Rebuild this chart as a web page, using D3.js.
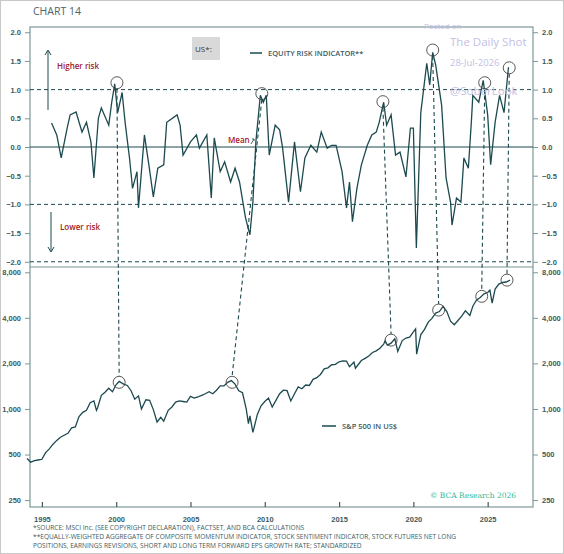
<!DOCTYPE html>
<html><head><meta charset="utf-8">
<script src="https://cdn.jsdelivr.net/npm/d3@7"></script>
<style>body{margin:0;background:#fff}svg{font-family:"Open Sans",sans-serif}</style>
</head><body><svg id="c" width="564" height="554"></svg>
<script>
const riskDates=[1995.65,1996.0,1996.3,1996.7,1996.9,1997.3,1997.7,1998.0,1998.3,1998.5,1998.8,1999.0,1999.5,1999.7,1999.9,2000.1,2000.4,2000.6,2000.9,2001.1,2001.4,2001.5,2001.9,2002.2,2002.5,2002.8,2003.2,2003.4,2004.1,2004.3,2004.5,2005.0,2005.4,2005.6,2006.1,2006.4,2006.6,2007.0,2007.3,2007.7,2008.0,2008.3,2008.7,2009.0,2009.2,2009.4,2009.7,2009.9,2010.1,2010.3,2010.7,2011.0,2011.2,2011.6,2012.0,2012.4,2012.7,2013.1,2013.5,2013.8,2014.2,2014.5,2014.8,2015.2,2015.5,2015.7,2015.9,2016.2,2016.5,2016.9,2017.2,2017.5,2017.7,2018.0,2018.2,2018.5,2018.8,2019.1,2019.5,2019.8,2020.0,2020.2,2020.5,2020.9,2021.1,2021.3,2021.5,2021.9,2022.2,2022.5,2022.6,2022.9,2023.2,2023.4,2023.7,2023.9,2024.0,2024.4,2024.7,2025.0,2025.2,2025.5,2025.8,2026.1,2026.4];
const riskValues=[0.42,0.21,-0.19,0.33,0.56,0.61,0.26,0.43,0.09,-0.54,0.5,0.68,0.38,0.78,1.1,0.6,0.95,0.43,-0.2,-0.72,-0.43,-1.06,0.21,-0.31,-0.87,-0.37,-0.31,0.43,0.56,0.38,-0.14,0.09,0.21,-0.02,0.21,-0.89,0.16,-0.43,-0.26,-0.61,-0.37,-0.61,-1.23,-1.53,-0.96,0.09,0.9,0.78,0.9,-0.14,0.38,0.3,-0.02,-0.96,0.09,-0.78,-0.19,0.03,-0.09,0.26,-0.02,0.03,0.03,-0.43,-1.06,-0.61,-1.3,-0.72,-0.31,0.03,0.21,0.26,0.43,0.78,0.38,0.56,-0.14,-0.09,-0.52,0.33,0.33,-1.76,0.6,1.46,1.08,1.65,1.43,0.73,-0.54,-0.96,-1.36,-0.89,-0.96,-0.19,-0.37,0.43,0.9,0.78,1.16,0.56,-0.31,0.43,0.9,0.6,1.39];
const spxDates=[1994.0,1994.25,1994.5,1994.75,1995.0,1995.25,1995.5,1995.75,1996.0,1996.25,1996.5,1996.75,1997.0,1997.25,1997.5,1997.75,1998.0,1998.25,1998.5,1998.67,1998.75,1999.0,1999.25,1999.5,1999.75,2000.0,2000.2,2000.5,2000.75,2001.0,2001.25,2001.5,2001.7,2002.0,2002.25,2002.5,2002.75,2003.0,2003.2,2003.5,2003.75,2004.0,2004.25,2004.5,2004.75,2005.0,2005.25,2005.5,2005.75,2006.0,2006.25,2006.5,2006.75,2007.0,2007.25,2007.5,2007.75,2008.0,2008.25,2008.5,2008.75,2008.9,2009.0,2009.2,2009.5,2009.75,2010.0,2010.25,2010.5,2010.75,2011.0,2011.25,2011.5,2011.75,2012.0,2012.25,2012.5,2012.75,2013.0,2013.25,2013.5,2013.75,2014.0,2014.25,2014.5,2014.75,2015.0,2015.25,2015.5,2015.7,2016.0,2016.1,2016.5,2016.75,2017.0,2017.25,2017.5,2017.75,2018.0,2018.1,2018.25,2018.5,2018.75,2018.95,2019.25,2019.5,2019.75,2020.0,2020.15,2020.22,2020.5,2020.75,2021.0,2021.25,2021.5,2021.75,2022.0,2022.25,2022.5,2022.75,2023.0,2023.25,2023.5,2023.8,2024.0,2024.25,2024.5,2024.75,2025.0,2025.15,2025.3,2025.5,2025.75,2026.0,2026.25,2026.5];
const spxValues=[470,445,455,460,465,515,545,585,620,650,670,690,750,760,890,950,980,1100,1130,980,1020,1230,1290,1370,1300,1450,1520,1460,1430,1320,1160,1220,1000,1150,1140,990,820,880,830,980,1030,1110,1130,1120,1110,1210,1180,1200,1230,1260,1300,1260,1330,1420,1420,1500,1540,1460,1320,1280,1000,800,900,700,920,1050,1120,1180,1030,1140,1260,1330,1320,1130,1260,1400,1360,1440,1430,1570,1610,1690,1840,1870,1960,1970,2050,2080,2070,1900,2040,1860,2090,2160,2240,2360,2420,2520,2680,2820,2640,2720,2910,2400,2830,2940,2980,3230,3380,2300,3100,3360,3750,3970,4300,4400,4770,4400,3800,3600,3840,4100,4450,4150,4770,5250,5450,5760,5880,6100,5000,6200,6690,6850,6900,7100];
const peakTop=[[2000.05,1.12],[2009.8,0.93],[2017.95,0.79],[2021.3,1.69],[2024.8,1.12],[2026.45,1.38]];
const peakBottom=[[2000.2,1500],[2007.8,1500],[2018.5,2850],[2021.7,4500],[2024.6,5550],[2026.3,7100]];
const riskTicks=[-2,-1.5,-1,-0.5,0,0.5,1,1.5,2];
const spxTicks=[250,500,1000,2000,4000,8000];
const yearTicks=[1995,2000,2005,2010,2015,2020,2025];
const footnotes=["*SOURCE: MSCI Inc. (SEE COPYRIGHT DECLARATION), FACTSET, AND BCA CALCULATIONS","**EQUALLY-WEIGHTED AGGREGATE OF COMPOSITE MOMENTUM INDICATOR, STOCK SENTIMENT INDICATOR, STOCK FUTURES NET LONG","POSITIONS, EARNINGS REVISIONS, SHORT AND LONG TERM FORWARD EPS GROWTH RATE; STANDARDIZED"];
const watermark=["Posted on","The Daily Shot","28-Jul-2026","@SoberLook"];

const svg=d3.select("#c");
const L=30,R=533,T1=27,B1=267,B2=507;
const dark="#1c4a4f",red="#a3201f",frame="#7d9696",txt="#3d5a5e";
svg.append("rect").attr("x",0.5).attr("y",0.5).attr("width",563).attr("height",553).attr("fill","none").attr("stroke","#c8c8c8");
const x=d3.scaleLinear().domain([1994.2,2028.05]).range([L,R]);
const y1=d3.scaleLinear().domain([-2.1,2.1]).range([267.5,26.5]);
const y2=d3.scaleLog().domain([225,8500]).range([B2,268.3]);

svg.append("text").attr("x",33).attr("y",15).attr("fill","#4d6468").attr("font-size",10.5).text("CHART 14");
svg.append("rect").attr("x",L).attr("y",T1).attr("width",R-L).attr("height",B2-T1).attr("fill","none").attr("stroke",frame).attr("stroke-width",1.2);
svg.append("line").attr("x1",L).attr("x2",R).attr("y1",B1).attr("y2",B1).attr("stroke",frame).attr("stroke-width",1.2);

function yAx(scale,fmt,vals){
  const la=svg.append("g").attr("transform",`translate(${L},0)`).call(d3.axisLeft(scale).tickValues(vals).tickFormat(fmt).tickSize(5).tickPadding(4));
  const ra=svg.append("g").attr("transform",`translate(${R},0)`).call(d3.axisRight(scale).tickValues(vals).tickFormat(fmt).tickSize(5).tickPadding(4));
  [la,ra].forEach(a=>{a.select(".domain").remove();a.selectAll("line").attr("stroke",frame);a.selectAll("text").attr("fill",txt).attr("font-size",7.5).attr("font-weight",600);});
}
yAx(y1,d3.format(".1f"),riskTicks);
yAx(y2,d3.format(",d"),spxTicks);
const xa=svg.append("g").attr("transform",`translate(0,${B2})`).call(d3.axisTop(x).tickValues(yearTicks).tickFormat(d3.format("d")).tickSize(5));
xa.select(".domain").remove();xa.selectAll("line").attr("stroke",txt).attr("stroke-width",1.2);
xa.selectAll("text").attr("fill",txt).attr("font-size",7.5).attr("font-weight",600).attr("y",15).attr("dy",0);

[1,-1,-2].forEach(v=>svg.append("line").attr("x1",L).attr("x2",R).attr("y1",y1(v)).attr("y2",y1(v)).attr("stroke",dark).attr("stroke-dasharray","4,3").attr("stroke-width",1));
svg.append("line").attr("x1",L).attr("x2",R).attr("y1",y1(0)).attr("y2",y1(0)).attr("stroke",dark).attr("stroke-width",1.2);

peakTop.forEach((p,i)=>{
  const b=peakBottom[i];
  svg.append("line").attr("x1",x(p[0])).attr("y1",y1(p[1])+6).attr("x2",x(b[0])).attr("y2",y2(b[1])-6).attr("stroke",dark).attr("stroke-dasharray","4,3").attr("stroke-width",1.1);
});

const line1=d3.line().x((d,i)=>x(riskDates[i])).y(d=>y1(d));
svg.append("path").attr("d",line1(riskValues)).attr("fill","none").attr("stroke",dark).attr("stroke-width",1.3);
const line2=d3.line().x((d,i)=>x(spxDates[i])).y(d=>y2(d));
svg.append("path").attr("d",line2(spxValues)).attr("fill","none").attr("stroke",dark).attr("stroke-width",1.3);

peakTop.forEach(p=>svg.append("circle").attr("cx",x(p[0])).attr("cy",y1(p[1])).attr("r",6).attr("fill","none").attr("stroke","#444").attr("stroke-width",0.9));
peakBottom.forEach(p=>svg.append("circle").attr("cx",x(p[0])).attr("cy",y2(p[1])).attr("r",6).attr("fill","none").attr("stroke","#444").attr("stroke-width",0.9));

svg.append("rect").attr("x",192).attr("y",37).attr("width",28).attr("height",23).attr("fill","#d9d9d9");
svg.append("text").attr("x",195).attr("y",52).attr("fill","#333").attr("font-size",8).text("US*:");
svg.append("line").attr("x1",250).attr("x2",262).attr("y1",53).attr("y2",53).attr("stroke",dark).attr("stroke-width",1.5);
svg.append("text").attr("x",268).attr("y",56).attr("fill",txt).attr("font-size",7.5).attr("font-weight",600).text("EQUITY RISK INDICATOR**");
svg.append("line").attr("x1",322).attr("x2",336).attr("y1",426).attr("y2",426).attr("stroke",dark).attr("stroke-width",1.5);
svg.append("text").attr("x",342).attr("y",429).attr("fill",txt).attr("font-size",7.5).attr("font-weight",600).text("S&P 500 IN US$");
svg.append("text").attr("x",57).attr("y",69).attr("fill",red).attr("font-size",8).attr("font-weight",600).text("Higher risk");
svg.append("text").attr("x",60).attr("y",230).attr("fill",red).attr("font-size",8).attr("font-weight",600).text("Lower risk");
svg.append("text").attr("x",228).attr("y",143).attr("fill",red).attr("font-size",8).attr("font-weight",600).text("Mean");
svg.append("path").attr("d","M251,144L254,139M252,139L254,139L254,141").attr("fill","none").attr("stroke",dark).attr("stroke-width",0.8);
svg.append("line").attr("x1",48).attr("x2",48).attr("y1",110).attr("y2",51).attr("stroke",dark);
svg.append("path").attr("d","M45,55L48,50L51,55").attr("fill","none").attr("stroke",dark);
svg.append("line").attr("x1",51).attr("x2",51).attr("y1",212).attr("y2",251).attr("stroke",dark);
svg.append("path").attr("d","M48,247L51,252L54,247").attr("fill","none").attr("stroke",dark);
svg.append("text").attr("x",516).attr("y",498).attr("text-anchor","end").attr("fill","#2fb99a").attr("font-size",7.5).attr("font-family","DejaVu Serif, serif").text("© BCA Research 2026");

footnotes.forEach((t,i)=>svg.append("text").attr("x",33).attr("y",530+i*9).attr("fill",txt).attr("font-size",6.6).text(t));

const wm="#c3c0e4";
svg.append("text").attr("x",424).attr("y",29).attr("fill",wm).attr("font-size",8).text(watermark[0]);
svg.append("text").attr("x",450).attr("y",46).attr("fill",wm).attr("font-size",11.5).text(watermark[1]);
svg.append("text").attr("x",450).attr("y",66).attr("fill",wm).attr("font-size",9.5).text(watermark[2]);
svg.append("text").attr("x",450).attr("y",95).attr("fill",wm).attr("font-size",11.5).text(watermark[3]);
</script></body></html>
